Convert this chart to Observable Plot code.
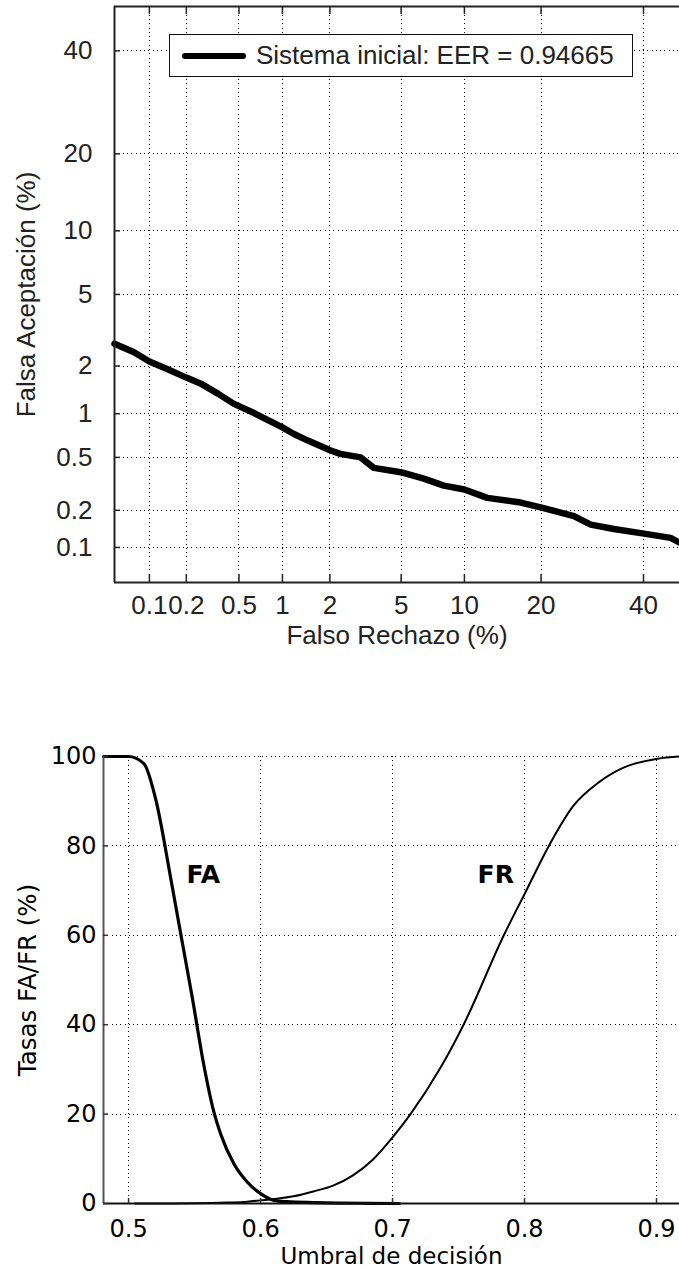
<!DOCTYPE html>
<html>
<head>
<meta charset="utf-8">
<script src="https://cdn.jsdelivr.net/npm/d3@7"></script>
<script src="https://cdn.jsdelivr.net/npm/@observablehq/plot@0.6"></script>
<style>
html, body { margin: 0; padding: 0; background: #fff; overflow: hidden; }
#wrap { position: relative; width: 679px; height: 1269px; overflow: hidden; }
#wrap svg { display: block; }
#legend {
  position: absolute; left: 169px; top: 34px; width: 464px; height: 43px;
  box-sizing: border-box; border: 1.5px solid #111; background: #fff;
  display: flex; align-items: center;
  font-family: "Liberation Sans", Arial, sans-serif; font-size: 26px; color: #222;
  white-space: nowrap;
}
#legend .sw { display: inline-block; margin-left: 12px; width: 64px; height: 6px; border-radius: 3px; background: #000; }
#legend .lt { margin-left: 10px; }
</style>
</head>
<body>
<div id="wrap">
  <div id="top"></div>
  <div id="bottom"></div>
  <div id="legend"><span class="sw"></span><span class="lt" id="legtext"></span></div>
</div>
<script>
// ---------- DATA (top: DET curve, percentages) ----------
const frPct = [0.05, 0.074, 0.10, 0.14, 0.20, 0.26, 0.35, 0.46, 0.64, 1.0, 1.19, 1.45, 2.02, 2.31, 3.02, 3.58, 4.98, 6.49, 8.08, 10.0, 12.5, 16.9, 20.1, 25.7, 28.9, 33.6, 40.1, 46.1, 48.1];
const faPct = [2.70, 2.41, 2.13, 1.92, 1.70, 1.56, 1.35, 1.16, 1.01, 0.81, 0.73, 0.66, 0.56, 0.53, 0.50, 0.42, 0.39, 0.35, 0.31, 0.29, 0.25, 0.23, 0.21, 0.18, 0.154, 0.142, 0.130, 0.120, 0.110];
const detTicks = [0.1, 0.2, 0.5, 1, 2, 5, 10, 20, 40];
const detTickLabels = ["0.1", "0.2", "0.5", "1", "2", "5", "10", "20", "40"];
const detXLimPct = [0.05, 48.14];
const detYLimPct = [0.05, 50];
const eerValue = 0.94665;
const legendLabel = "Sistema inicial: EER = " + eerValue;
const detXLabel = "Falso Rechazo (%)";
const detYLabel = "Falsa Aceptación (%)";

// ---------- DATA (bottom: FA / FR vs threshold) ----------
const faThr = [0.481, 0.500, 0.5116, 0.5205, 0.5318, 0.5394, 0.5483, 0.5570, 0.5646, 0.5697, 0.5798, 0.5899, 0.6000, 0.6101, 0.620, 0.640, 0.660, 0.680, 0.705];
const faVal = [100, 100, 98.4, 90.5, 73.0, 60.5, 46.0, 31.0, 20.5, 15.6, 8.9, 4.8, 2.2, 0.7, 0.4, 0.2, 0.1, 0.05, 0];
const frThr = [0.505, 0.550, 0.575, 0.590, 0.600, 0.610, 0.625, 0.640, 0.655, 0.670, 0.685, 0.700, 0.7136, 0.7364, 0.7538, 0.7843, 0.8008, 0.8184, 0.8371, 0.8553, 0.875, 0.9008, 0.9174];
const frVal = [0, 0.05, 0.2, 0.4, 0.7, 1.0, 1.6, 2.7, 4.0, 6.3, 9.8, 14.8, 20.0, 30.4, 40.0, 60.0, 69.7, 80.0, 89.0, 94.0, 97.5, 99.5, 100];
const thrTicks = [0.5, 0.6, 0.7, 0.8, 0.9];
const thrTickLabels = ["0.5", "0.6", "0.7", "0.8", "0.9"];
const rateTicks = [0, 20, 40, 60, 80, 100];
const rateTickLabels = ["0", "20", "40", "60", "80", "100"];
const thrLim = [0.481, 0.9174];
const rateLim = [0, 100];
const labelFA = {text: "FA", thr: 0.5439, val: 71.8};
const labelFR = {text: "FR", thr: 0.7644, val: 71.8};
const thrXLabel = "Umbral de decisión";
const thrYLabel = "Tasas FA/FR (%)";

// ---------- normal deviate (probit) transform for DET axes ----------
function probit(p) {
  const a = [-3.969683028665376e+01, 2.209460984245205e+02, -2.759285104469687e+02, 1.383577518672690e+02, -3.066479806614716e+01, 2.506628277459239e+00];
  const b = [-5.447609879822406e+01, 1.615858368580409e+02, -1.556989798598866e+02, 6.680131188771972e+01, -1.328068155288572e+01];
  const c = [-7.784894002430293e-03, -3.223964580411365e-01, -2.400758277161838e+00, -2.549732539343734e+00, 4.374664141464968e+00, 2.938163982698783e+00];
  const d = [7.784695709041462e-03, 3.224671290700398e-01, 2.445134137142996e+00, 3.754408661907416e+00];
  const pl = 0.02425, ph = 1 - pl;
  let q, r;
  if (p < pl) {
    q = Math.sqrt(-2 * Math.log(p));
    return (((((c[0]*q+c[1])*q+c[2])*q+c[3])*q+c[4])*q+c[5]) / ((((d[0]*q+d[1])*q+d[2])*q+d[3])*q+1);
  }
  if (p <= ph) {
    q = p - 0.5; r = q * q;
    return (((((a[0]*r+a[1])*r+a[2])*r+a[3])*r+a[4])*r+a[5])*q / (((((b[0]*r+b[1])*r+b[2])*r+b[3])*r+b[4])*r+1);
  }
  q = Math.sqrt(-2 * Math.log(1 - p));
  return -(((((c[0]*q+c[1])*q+c[2])*q+c[3])*q+c[4])*q+c[5]) / ((((d[0]*q+d[1])*q+d[2])*q+d[3])*q+1);
}
const z = pct => probit(pct / 100);

// ---------- TOP CHART ----------
const X0 = z(detXLimPct[0]), X1 = z(detXLimPct[1]);
const Y0 = z(detYLimPct[0]), Y1 = z(detYLimPct[1]);
const det = frPct.map((fr, i) => ({x: z(fr), y: z(faPct[i])}));
const detTickPos = detTicks.map(z);
const detFmt = v => detTickLabels[detTickPos.findIndex(t => Math.abs(t - v) < 1e-9)];

const W = 679;
const topH = 660, topMT = 6, topMB = 78, topML = 114, topMR = 0;
const topInnerH = topH - topMT - topMB, topInnerW = W - topML - topMR;
const dotted = {stroke: "#000", strokeOpacity: 1, strokeWidth: 1, strokeDasharray: "1,3.3", shapeRendering: "crispEdges"};
const frameCol = "#222";
const topFont = "Liberation Sans, Arial, sans-serif";

const topPlot = Plot.plot({
  width: W, height: topH,
  marginTop: topMT, marginBottom: topMB, marginLeft: topML, marginRight: topMR,
  x: {domain: [X0, X1], label: null},
  y: {domain: [Y0, Y1], label: null},
  style: {fontFamily: topFont, fontSize: "26px", color: "#222", background: "#fff", maxWidth: "none"},
  marks: [
    Plot.gridX(detTickPos, dotted),
    Plot.gridY(detTickPos, dotted),
    Plot.line(det, {x: "x", y: "y", stroke: "#000", strokeWidth: 6.5, strokeLinejoin: "round", strokeLinecap: "round"}),
    Plot.ruleX([X0], {stroke: frameCol, strokeWidth: 2}),
    Plot.ruleY([Y0], {stroke: frameCol, strokeWidth: 2}),
    Plot.ruleY([Y1], {stroke: frameCol, strokeWidth: 2}),
    Plot.tickX(detTickPos, {x: d => d, stroke: frameCol, strokeWidth: 1.5, insetTop: topInnerH - 8}),
    Plot.tickX(detTickPos, {x: d => d, stroke: frameCol, strokeWidth: 1.5, insetBottom: topInnerH - 8}),
    Plot.tickY(detTickPos, {y: d => d, stroke: frameCol, strokeWidth: 1.5, insetRight: topInnerW - 6}),
    Plot.axisX(detTickPos, {tickSize: 0, tickPadding: 13, tickFormat: detFmt, label: null, fontSize: 26, fill: "#222"}),
    Plot.axisY(detTickPos, {tickSize: 0, tickPadding: 22, tickFormat: detFmt, label: null, fontSize: 26, fill: "#222"}),
    Plot.text([detXLabel], {text: d => d, frameAnchor: "bottom", lineAnchor: "bottom", textAnchor: "middle", dy: 61, fontSize: 26, fill: "#222"}),
    Plot.text([detYLabel], {text: d => d, frameAnchor: "left", rotate: -90, lineAnchor: "bottom", textAnchor: "middle", dx: -80, fontSize: 26, fill: "#222"})
  ]
});
document.getElementById("top").appendChild(topPlot);
document.getElementById("legtext").textContent = legendLabel;

// ---------- BOTTOM CHART ----------
const fa = faThr.map((t, i) => ({t, v: faVal[i]}));
const fr = frThr.map((t, i) => ({t, v: frVal[i]}));
const botH = 609, botMT = 96, botMB = 66, botML = 103, botMR = 0;
const botInnerH = botH - botMT - botMB, botInnerW = W - botML - botMR;
const botFont = "DejaVu Sans, Verdana, sans-serif";
const thrFmt = v => thrTickLabels[thrTicks.findIndex(t => Math.abs(t - v) < 1e-9)];
const rateFmt = v => rateTickLabels[rateTicks.findIndex(t => Math.abs(t - v) < 1e-9)];

const botPlot = Plot.plot({
  width: W, height: botH,
  marginTop: botMT, marginBottom: botMB, marginLeft: botML, marginRight: botMR,
  x: {domain: thrLim, label: null},
  y: {domain: rateLim, label: null},
  style: {fontFamily: botFont, fontSize: "24px", color: "#000", background: "#fff", maxWidth: "none"},
  marks: [
    Plot.gridX(thrTicks, dotted),
    Plot.gridY(rateTicks, dotted),
    Plot.line(fr, {x: "t", y: "v", stroke: "#000", strokeWidth: 2, strokeLinejoin: "round", curve: "monotone-x"}),
    Plot.line(fa, {x: "t", y: "v", stroke: "#000", strokeWidth: 3.2, strokeLinejoin: "round", curve: "monotone-x"}),
    Plot.ruleX([thrLim[0]], {stroke: "#555", strokeWidth: 2}),
    Plot.ruleY([rateLim[0]], {stroke: "#111", strokeWidth: 2.2}),
    Plot.tickX(thrTicks, {x: d => d, stroke: "#333", strokeWidth: 1.5, insetTop: botInnerH - 5}),
    Plot.tickY(rateTicks, {y: d => d, stroke: "#333", strokeWidth: 1.5, insetRight: botInnerW - 5}),
    Plot.axisX(thrTicks, {tickSize: 0, tickPadding: 16, tickFormat: thrFmt, label: null, fontSize: 24, fill: "#000"}),
    Plot.axisY(rateTicks, {tickSize: 0, tickPadding: 7, tickFormat: rateFmt, label: null, fontSize: 24, fill: "#000"}),
    Plot.text([labelFA, labelFR], {x: "thr", y: "val", text: "text", textAnchor: "start", lineAnchor: "bottom", fontSize: 25, fontWeight: "bold", fill: "#000"}),
    Plot.text([thrXLabel], {text: d => d, frameAnchor: "bottom", lineAnchor: "bottom", textAnchor: "middle", dy: 60, fontSize: 23, fill: "#000"}),
    Plot.text([thrYLabel], {text: d => d, frameAnchor: "left", rotate: -90, lineAnchor: "bottom", textAnchor: "middle", dx: -68, fontSize: 24.5, fill: "#000"})
  ]
});
document.getElementById("bottom").appendChild(botPlot);
</script>
</body>
</html>
